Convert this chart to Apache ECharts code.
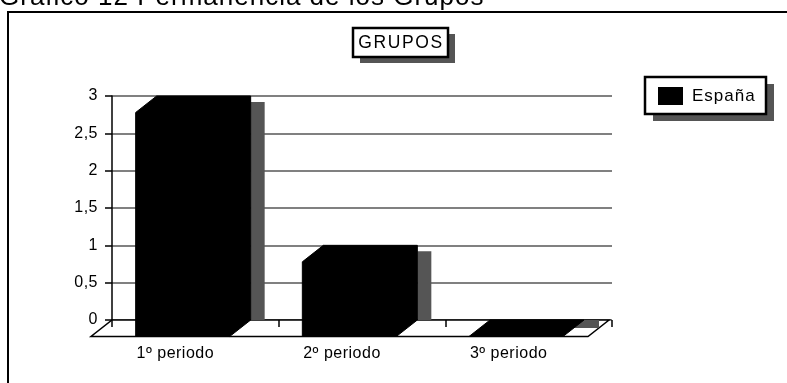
<!DOCTYPE html>
<html><head><meta charset="utf-8">
<script src="https://cdn.jsdelivr.net/npm/echarts@6/dist/echarts.min.js"></script>
<style>html,body{margin:0;padding:0;background:#fff}#c{width:787px;height:383px}</style>
</head><body><div id="c"></div>
<script>
// ---- data ----
const categories = ['1º periodo', '2º periodo', '3º periodo'];
const seriesName = 'España';
const values = [3, 1, 0];
const yTicks = [0, 0.5, 1, 1.5, 2, 2.5, 3];
const pageTitle = 'Gráfico 12 Permanencia de los Grupos';
const chartTitle = 'GRUPOS';

// ---- rendering ----
const FONT = '"Liberation Sans", Arial, sans-serif';
const DX = -21, DY = 16.5;      // 3D depth offset (back -> front)
const SHADOW = '#555555';
const SZ_AXIS = 16, SZ_LEGEND = 17, SZ_BOX = 17.5, SZ_TITLE = 26;
// letter spacing per font size (the original renders text loosely spaced)
const LS = {};
LS[SZ_AXIS] = '0.5px'; LS[SZ_LEGEND] = '1px'; LS[SZ_BOX] = '1.6px'; LS[SZ_TITLE] = '1px';
(function () {
  const proto = CanvasRenderingContext2D.prototype;
  if (!('letterSpacing' in proto)) return;
  const orig = proto.fillText;
  proto.fillText = function (t, x, y, m) {
    const mm = /(\d+(?:\.\d+)?)px/.exec(this.font || '');
    this.letterSpacing = (mm && LS[parseFloat(mm[1])]) || '0px';
    return m === undefined ? orig.call(this, t, x, y) : orig.call(this, t, x, y, m);
  };
})();

const chart = echarts.init(document.getElementById('c'), null, {renderer: 'canvas'});

function floorItem(params, api) {
  const band = api.size([1, 0])[0];
  const p0 = api.coord([0, 0]);
  const left = p0[0] - band / 2;
  const right = left + band * categories.length;
  const y0 = p0[1];
  return {
    type: 'polygon',
    shape: {points: [[left, y0], [right - 3, y0], [right - 3 + DX, y0 + DY], [left + DX, y0 + DY]]},
    style: {fill: '#fff', stroke: '#000', lineWidth: 1.5}
  };
}

function barItem(params, api) {
  const i = api.value(0), v = api.value(1);
  const top = api.coord([i, v]);
  const base = api.coord([i, 0]);
  const band = api.size([1, 0])[0];
  const w = band * 0.564;
  const cx = top[0] + band * 0.05;
  const xL = cx - w / 2, xR = cx + w / 2, yT = top[1], yB = base[1];
  let shadowPts;
  if (yB - yT > 6) {
    shadowPts = [[xR, yT + 6], [xR + 14, yT + 6], [xR + 14, yB], [xR, yB]];
  } else {
    shadowPts = [[xR - 2, yB], [xR + 15, yB], [xR + 15, yB + 8], [xR - 12, yB + 8]];
  }
  return {
    type: 'group',
    children: [
      {type: 'polygon', shape: {points: shadowPts}, style: {fill: SHADOW}},
      {type: 'polygon', shape: {points: [
        [xL + DX, yT + DY], [xL, yT], [xR, yT], [xR, yB], [xR + DX, yB + DY], [xL + DX, yB + DY]
      ]}, style: {fill: '#000', stroke: '#000', lineWidth: 1}}
    ]
  };
}

chart.setOption({
  animation: false,
  backgroundColor: '#fff',
  title: {
    text: pageTitle, left: -1, top: -15, padding: 0,
    textStyle: {fontFamily: FONT, fontSize: SZ_TITLE, fontWeight: 'normal', color: '#000'}
  },
  grid: {left: 112, top: 96, width: 500, height: 224},
  legend: {
    data: [{name: seriesName, icon: 'rect'}],
    left: 658, top: 87, padding: 0,
    itemWidth: 25, itemHeight: 18, selectedMode: false,
    formatter: n => '{a|' + n + '}',
    textStyle: {
      fontFamily: FONT, fontSize: SZ_LEGEND, color: '#000',
      rich: {a: {fontFamily: FONT, fontSize: SZ_LEGEND, color: '#000', padding: [0, 0, 0, 4]}}
    },
    z: 20
  },
  xAxis: {
    type: 'category', data: categories, z: 5,
    axisLine: {show: false},
    axisTick: {show: true, length: 7, lineStyle: {color: '#000', width: 1.5}},
    axisLabel: {
      margin: 26, color: '#000',
      formatter: v => '{a|' + v + '}',
      rich: {a: {fontFamily: FONT, fontSize: SZ_AXIS, color: '#000', padding: [0, 40, 0, 0]}}
    },
    splitLine: {show: false}
  },
  yAxis: {
    type: 'value', min: yTicks[0], max: yTicks[yTicks.length - 1], interval: yTicks[1] - yTicks[0],
    axisLine: {show: true, lineStyle: {color: '#000', width: 1.5}},
    axisTick: {show: true, length: 7, lineStyle: {color: '#000', width: 1.5}},
    axisLabel: {
      margin: 14, fontFamily: FONT, fontSize: SZ_AXIS, color: '#000',
      formatter: v => String(v).replace('.', ',')
    },
    splitLine: {show: true, lineStyle: {color: '#808080', width: 2}}
  },
  graphic: [
    {type: 'rect', z: 0, shape: {x: 8, y: 12, width: 800, height: 400}, style: {fill: 'none', stroke: '#000', lineWidth: 2}},
    {type: 'rect', z: 30, shape: {x: 360, y: 34, width: 95, height: 29}, style: {fill: SHADOW}},
    {type: 'rect', z: 31, shape: {x: 353, y: 28, width: 95, height: 29}, style: {fill: '#fff', stroke: '#000', lineWidth: 2.5}},
    {type: 'text', z: 32, style: {x: 401, y: 43, text: chartTitle, align: 'center', verticalAlign: 'middle', font: SZ_BOX + 'px ' + FONT, fill: '#000'}},
    {type: 'rect', z: 1, shape: {x: 653, y: 84, width: 121, height: 37}, style: {fill: SHADOW}},
    {type: 'rect', z: 2, shape: {x: 645, y: 77, width: 121, height: 37}, style: {fill: '#fff', stroke: '#000', lineWidth: 2.5}}
  ],
  series: [
    {
      type: 'custom', name: 'floor', z: 1, silent: true,
      data: [[0, 0]], renderItem: floorItem
    },
    {
      type: 'custom', name: seriesName, z: 10,
      itemStyle: {color: '#000'},
      encode: {x: 0, y: 1},
      data: values.map((v, i) => [i, v]),
      renderItem: barItem
    }
  ]
});
</script>
</body></html>
